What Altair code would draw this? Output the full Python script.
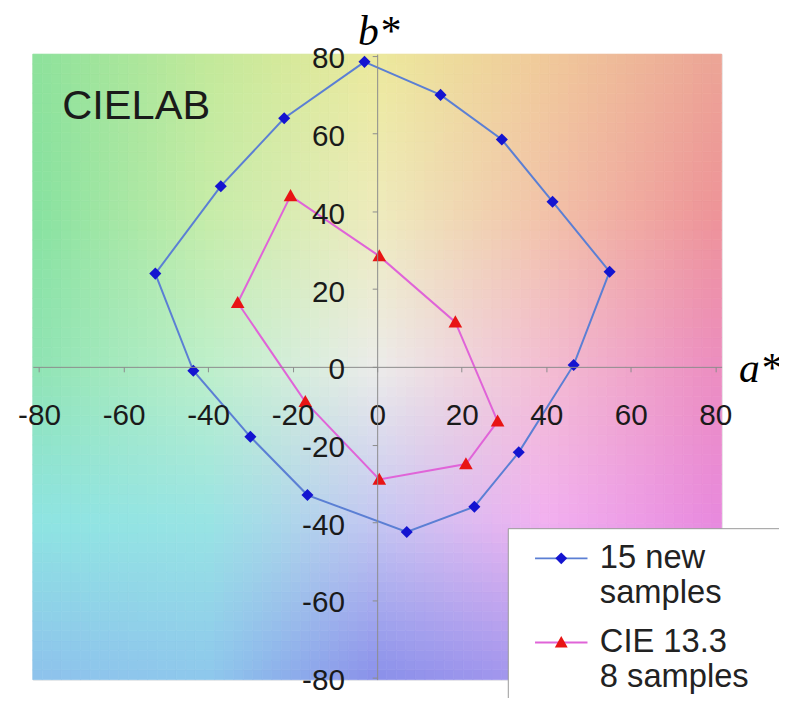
import altair as alt
import numpy as np
import pandas as pd

# ---------------- data ----------------
SERIES = ["15 new|samples", "CIE 13.3|8 samples"]

new_a = [-3, 15, 29.5, 41.5, 55, 46.5, 33.5, 23, 7, -16.5, -30, -43.5, -52.5, -37, -22]
new_b = [78.5, 70, 58.5, 42.5, 24.5, 0.5, -22, -36, -42.5, -33, -18, -1, 24, 46.5, 64]

cie_a = [-20.5, 0.5, 18.5, 28.5, 21, 0.5, -17, -33]
cie_b = [44, 28.5, 11.5, -14, -25, -29, -9, 16.5]

tick_values = [-80, -60, -40, -20, 0, 20, 40, 60, 80]

label_text = ["CIELAB"]
label_a = [-74.5]
label_b = [67]

# background colour samples (rows: b = 80..-80, cols: a = -80..80)
BG_A = [-80, -40, 0, 40, 80]
BG_B = [80, 40, 0, -40, -80]
BG_COLORS = [
    ["#8ee29c", "#c2e99a", "#ece99c", "#f0c99a", "#eca596"],
    ["#88e2a0", "#c6eca8", "#eeebbc", "#f2c2a8", "#ee9498"],
    ["#90e4b4", "#bdefca", "#ececea", "#f3bdd2", "#ec8ec0"],
    ["#8ee4e2", "#98e4e4", "#c4c6f2", "#f2b0f0", "#e88ade"],
    ["#8ec2ec", "#8ec8ec", "#8a90ea", "#a898ee", "#c8a0ee"],
]

# ---------------- styles ----------------
X_DOM = [-81.5, 81.5]
Y_DOM = [-80.5, 80.5]
LINE_COLORS = ["#5b7fd4", "#e064d8"]
MARKER_COLORS = ["#1414d0", "#e81414"]
SYM_SIZE = 2809  # unit of custom path = sqrt(size)/2 = 26.5 px
MARKER_PATHS = ["M0,-0.23L0.23,0L0,0.23L-0.23,0Z", "M0,-0.26L0.26,0.2L-0.26,0.2Z"]
LEG_SIZE = 100   # unit = 5 px
LEG_MARKER_PATHS = ["M0,-1.2L1.2,0L0,1.2L-1.2,0Z", "M0,-1.3L1.3,1L-1.3,1Z"]
LEG_LINE_PATH = "M-5.3,0L5.3,0"

# ---------------- tables ----------------
pts = pd.DataFrame({
    "a": new_a + cie_a,
    "b": new_b + cie_b,
    "series": [SERIES[0]] * len(new_a) + [SERIES[1]] * len(cie_a),
    "i": list(range(len(new_a))) + list(range(len(cie_a))),
})
closing = pd.DataFrame({
    "a": [new_a[0], cie_a[0]],
    "b": [new_b[0], cie_b[0]],
    "series": SERIES,
    "i": [len(new_a), len(cie_a)],
})
lines = pd.concat([pts, closing], ignore_index=True)

rgb = np.array([[[int(h[k:k + 2], 16) for k in (1, 3, 5)] for h in row] for row in BG_COLORS], float)
N_A, N_B = 72, 64
a_edges = np.linspace(X_DOM[0], X_DOM[1], N_A + 1)
b_edges = np.linspace(Y_DOM[0], Y_DOM[1], N_B + 1)
cells = []
for i in range(N_A):
    ac = 0.5 * (a_edges[i] + a_edges[i + 1])
    fa = float(np.clip((ac - BG_A[0]) / 40.0, 0, 4))
    ia = min(int(fa), 3)
    ta = fa - ia
    for j in range(N_B):
        bc = 0.5 * (b_edges[j] + b_edges[j + 1])
        fb = float(np.clip((BG_B[0] - bc) / 40.0, 0, 4))
        ib = min(int(fb), 3)
        tb = fb - ib
        c = (rgb[ib, ia] * (1 - ta) * (1 - tb) + rgb[ib, ia + 1] * ta * (1 - tb)
             + rgb[ib + 1, ia] * (1 - ta) * tb + rgb[ib + 1, ia + 1] * ta * tb)
        cells.append({
            "x0": a_edges[i], "x1": a_edges[i + 1],
            "y0": b_edges[j], "y1": b_edges[j + 1],
            "col": "#%02x%02x%02x" % tuple(int(round(v)) for v in c),
        })
bg = pd.DataFrame(cells)
labels = pd.DataFrame({"t": label_text, "a": label_a, "b": label_b})

# ---------------- axes ----------------
HYPHEN_LABEL = "datum.value < 0 ? '-' + abs(datum.value) : '' + datum.value"
x_axis = alt.Axis(
    orient="bottom", offset=-316, values=tick_values, grid=False, zindex=1,
    labelExpr=HYPHEN_LABEL,
    labelFont="Liberation Sans", labelFontSize=30, labelColor="#1a1a1a",
    labelPadding=29, labelFlush=False, labelOverlap=False,
    tickSize=5, tickColor="#8c8c8c", domainColor="#8c8c8c", domainWidth=1,
    title="a*", titleFont="Liberation Serif", titleFontStyle="italic",
    titleFontWeight="normal", titleFontSize=42, titleColor="#000000",
    titleAngle=0, titleX=734, titleY=2, titleAlign="center", titleBaseline="middle",
)
y_axis = alt.Axis(
    orient="left", offset=-348, values=tick_values, grid=False, zindex=1,
    labelExpr=HYPHEN_LABEL,
    labelFont="Liberation Sans", labelFontSize=30, labelColor="#1a1a1a",
    labelPadding=28, labelFlush=False, labelOverlap=False, labelOffset=3,
    tickSize=5, tickColor="#8c8c8c", domainColor="#8c8c8c", domainWidth=1,
    title="b*", titleFont="Liberation Serif", titleFontStyle="italic",
    titleFontWeight="normal", titleFontSize=42, titleColor="#000000",
    titleAngle=0, titleX=1, titleY=-23, titleAlign="center", titleBaseline="middle",
)
xs = alt.Scale(domain=X_DOM, nice=False, zero=False)
ys = alt.Scale(domain=Y_DOM, nice=False, zero=False)

leg_common = dict(
    orient="none", legendX=480, legendY=479, title=None,
    labelExpr="split(datum.label, '|')", labelFont="Liberation Sans",
    labelFontSize=33, labelColor="#222222", labelLimit=500, labelOffset=22.5,
    labelBaseline="middle", symbolSize=LEG_SIZE, symbolOffset=23.5,
    padding=14, rowPadding=16,
)
# hidden helper legends: blank two-line labels keep the same row heights
blank_common = dict(leg_common)
blank_common["labelExpr"] = "[' ', ' ']"
box_common = dict(blank_common)
box_common["labelOffset"] = 200

# ---------------- layers ----------------
background = alt.Chart(bg).mark_rect(strokeWidth=0.7).encode(
    x=alt.X("x0:Q", scale=xs, axis=x_axis),
    x2="x1:Q",
    y=alt.Y("y0:Q", scale=ys, axis=y_axis),
    y2="y1:Q",
    color=alt.Color("col:N", scale=None),
    stroke=alt.Stroke("col:N", scale=None),
)

line_layer = alt.Chart(lines).mark_line(strokeWidth=2).encode(
    x=alt.X("a:Q", scale=xs, axis=x_axis),
    y=alt.Y("b:Q", scale=ys, axis=y_axis),
    detail="series:N",
    order="i:Q",
    color=alt.Color(
        "series:N", scale=alt.Scale(domain=SERIES, range=LINE_COLORS),
        legend=alt.Legend(symbolType=LEG_LINE_PATH, symbolStrokeWidth=2, zindex=2,
                          **leg_common),
    ),
)

marker_layer = alt.Chart(pts).mark_point(filled=True, opacity=1, size=SYM_SIZE).encode(
    x=alt.X("a:Q", scale=xs, axis=x_axis),
    y=alt.Y("b:Q", scale=ys, axis=y_axis),
    color=alt.Color("series:N", scale=alt.Scale(domain=SERIES, range=MARKER_COLORS), legend=None),
    shape=alt.Shape("series:N", scale=alt.Scale(domain=SERIES, range=MARKER_PATHS), legend=None),
)

leg_markers = alt.Chart(pts).transform_filter("false").mark_point(
    filled=True, opacity=1, size=LEG_SIZE
).encode(
    x=alt.X("a:Q", scale=xs, axis=x_axis),
    y=alt.Y("b:Q", scale=ys, axis=y_axis),
    color=alt.Color("series:N", scale=alt.Scale(domain=SERIES, range=MARKER_COLORS),
                    legend=alt.Legend(zindex=3, **blank_common)),
    shape=alt.Shape("series:N", scale=alt.Scale(domain=SERIES, range=LEG_MARKER_PATHS),
                    legend=alt.Legend(zindex=3, **blank_common)),
)

leg_box = alt.Chart(pts).transform_filter("false").mark_point(
    filled=True, opacity=1, size=LEG_SIZE
).encode(
    x=alt.X("a:Q", scale=xs, axis=x_axis),
    y=alt.Y("b:Q", scale=ys, axis=y_axis),
    color=alt.Color("series:N", scale=alt.Scale(domain=SERIES, range=["white", "white"]),
                    legend=alt.Legend(symbolOpacity=0, fillColor="white",
                                      strokeColor="#9a9a9a", zindex=1, **box_common)),
)

text_layer = alt.Chart(labels).mark_text(
    align="left", baseline="middle", font="Liberation Sans", fontSize=42, color="#1a1a1a"
).encode(
    x=alt.X("a:Q", scale=xs, axis=x_axis),
    y=alt.Y("b:Q", scale=ys, axis=y_axis),
    text="t:N",
)

chart = alt.layer(background, line_layer, marker_layer, leg_box, leg_markers, text_layer).resolve_scale(
    color="independent", shape="independent"
).properties(
    width=696, height=632,
    autosize=alt.AutoSizeParams(type="none"),
    padding={"left": 25, "top": 43, "right": 58, "bottom": 15},
).configure_view(stroke=None).configure(background="white")

chart.save("out.html", embed_options={"renderer": "svg", "actions": False})
